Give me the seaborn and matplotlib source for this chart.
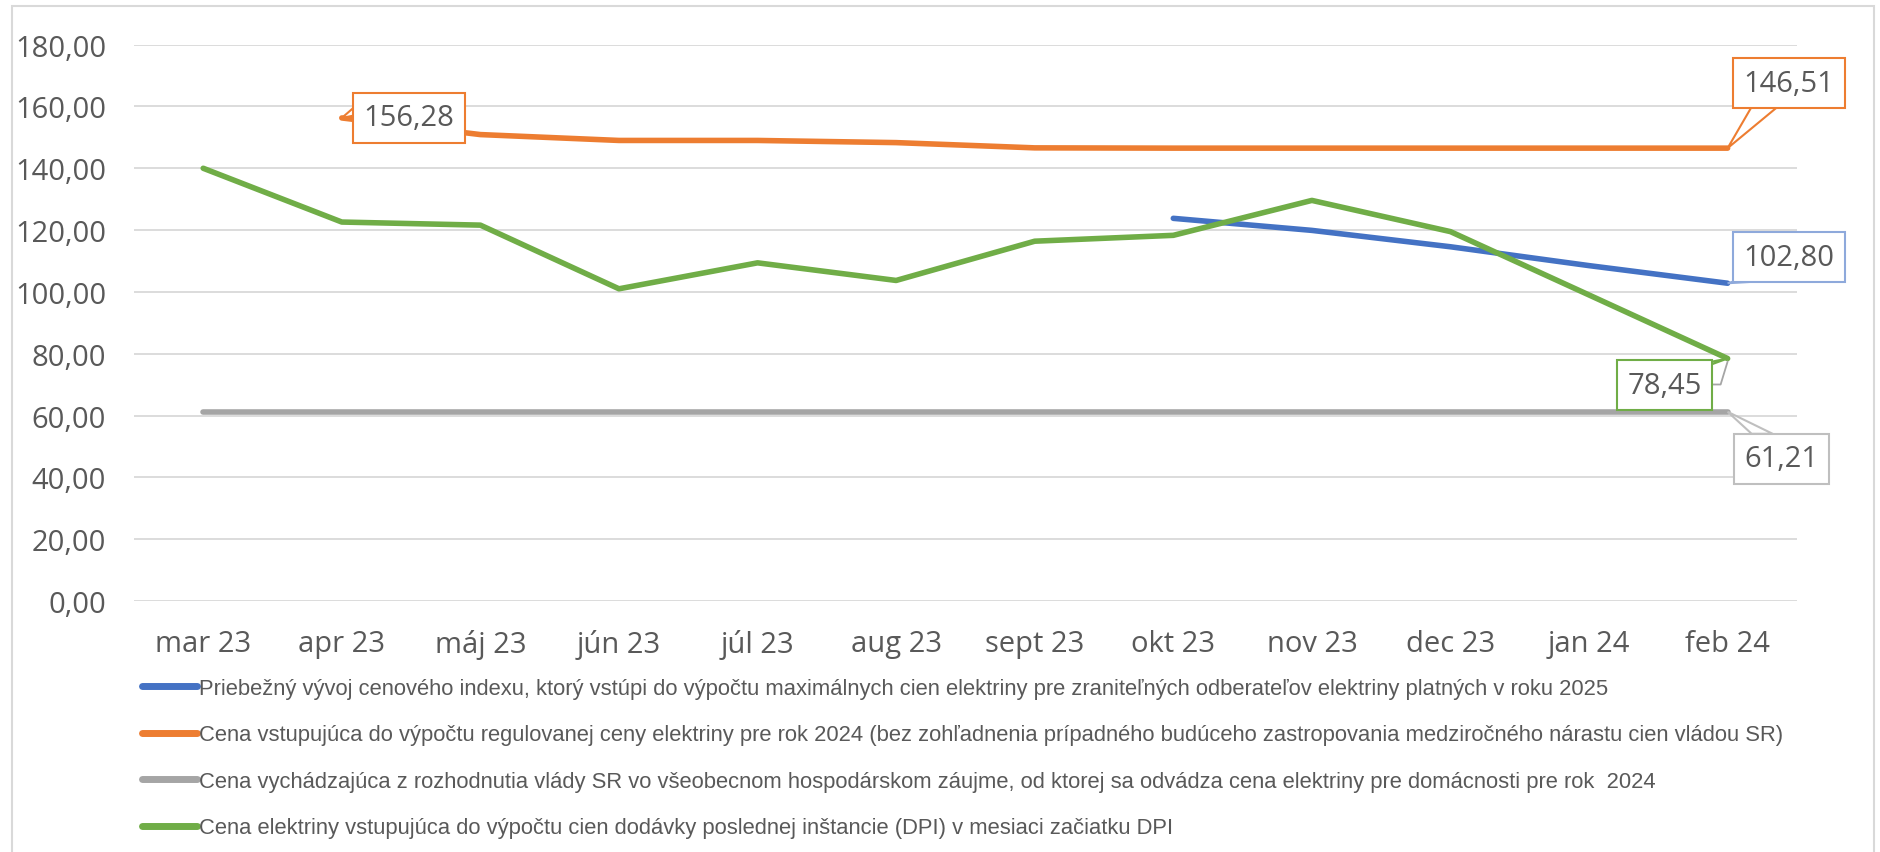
import numpy as np
import pandas as pd
import matplotlib
matplotlib.use("Agg")
import matplotlib.pyplot as plt
import seaborn as sns
from matplotlib.lines import Line2D
from matplotlib.patches import Rectangle, Polygon
from matplotlib.transforms import IdentityTransform, ScaledTranslation

months = ["mar 23", "apr 23", "máj 23", "jún 23", "júl 23", "aug 23",
          "sept 23", "okt 23", "nov 23", "dec 23", "jan 24", "feb 24"]

# NaN = no value for that month
index_2025 = [np.nan] * 7 + [123.8, 119.9, 114.6, 108.5, 102.80]
regulated_2024 = [np.nan, 156.28, 150.9, 149.0, 149.0, 148.3,
                  146.6, 146.51, 146.51, 146.51, 146.51, 146.51]
government_2024 = [61.21] * 12
dpi_price = [140.0, 122.6, 121.6, 101.0, 109.4, 103.7,
             116.4, 118.3, 129.6, 119.5, 99.0, 78.45]

labels = [
    "Priebežný vývoj cenového indexu, ktorý vstúpi do výpočtu maximálnych cien elektriny pre zraniteľných odberateľov elektriny platných v roku 2025",
    "Cena vstupujúca do výpočtu regulovanej ceny elektriny pre rok 2024 (bez zohľadnenia prípadného budúceho zastropovania medziročného nárastu cien vládou SR)",
    "Cena vychádzajúca z rozhodnutia vlády SR vo všeobecnom hospodárskom záujme, od ktorej sa odvádza cena elektriny pre domácnosti pre rok  2024",
    "Cena elektriny vstupujúca do výpočtu cien dodávky poslednej inštancie (DPI) v mesiaci začiatku DPI",
]
colors = ["#4472C4", "#ED7D31", "#A5A5A5", "#70AD47"]
series = [index_2025, regulated_2024, government_2024, dpi_price]

TXT = "#595959"

df = pd.DataFrame({"x": np.arange(len(months))})
for lab, vals in zip(labels, series):
    df[lab] = vals
long = df.melt(id_vars="x", var_name="series", value_name="value").dropna()

sns.set_style("white")
plt.rcParams["font.family"] = ["Open Sans", "DejaVu Sans"]

fig = plt.figure(figsize=(18.81, 8.53), dpi=100)
ax = fig.add_axes([0.0712, 0.2943, 0.9553 - 0.0712, 0.9465 - 0.2943])

sns.lineplot(data=long, x="x", y="value", hue="series", hue_order=labels,
             palette=dict(zip(labels, colors)), linewidth=4, legend=False,
             ax=ax, sort=False)

ax.set_xlim(-0.5, len(months) - 0.5)
ax.set_ylim(0, 180)
ax.set_yticks(np.arange(0, 181, 20))
ax.set_yticklabels([f"{v:.2f}".replace(".", ",") for v in np.arange(0, 181, 20)])
ax.set_xticks(np.arange(len(months)))
ax.set_xticklabels(months)
ax.tick_params(axis="both", length=0, labelsize=21, colors=TXT)
ax.tick_params(axis="y", pad=20)
ax.tick_params(axis="x", pad=20)
ax.set_xlabel("")
ax.set_ylabel("")
ax.grid(axis="y", color="#D9D9D9", linewidth=1.3)
ax.set_axisbelow(True)
for s in ax.spines.values():
    s.set_visible(False)

# callouts: (x index, value, edge colour, box offset px, pointer base px)
last = len(months) - 1
callouts = [
    (1, regulated_2024[1], "#ED7D31", (67, 0), [(15, 13), (15, 3)]),
    (last, regulated_2024[-1], "#ED7D31", (61, 65), [(25, 43), (52, 43)]),
    (last, index_2025[-1], "#8EA9DB", (61, 26), [(10, 3), (52, 3)]),
    (last, dpi_price[-1], "#70AD47", (-63, -27), [(-55, -11), (-30, -11)]),
    (last, government_2024[-1], "#BFBFBF", (54, -47), [(24, -22), (45, -22)]),
]
for xi, val, ec, off, base in callouts:
    anchor = IdentityTransform() + ScaledTranslation(xi, val, ax.transData)
    ax.add_patch(Polygon([(0, 0)] + base, closed=True, fc="white", ec=ec,
                         lw=1.5, transform=anchor, clip_on=False, zorder=5))
    ax.annotate(f"{val:.2f}".replace(".", ","), xy=(xi, val),
                xytext=off, textcoords="offset pixels",
                ha="center", va="center", fontsize=21, color=TXT,
                bbox=dict(boxstyle="square,pad=0.36", fc="white", ec=ec, lw=1.5),
                annotation_clip=False, zorder=6)
    if ec == "#70AD47":
        # leader line from the label back to the point
        ax.add_line(Line2D([-21, -7, 0], [-26, -26, -3], color="#A5A5A5",
                           lw=1.3, transform=anchor, clip_on=False, zorder=4))

handles = [Line2D([0], [0], color=c, lw=5) for c in colors]
leg = fig.legend(handles, labels, loc="upper left",
                 bbox_to_anchor=(0.0755, 0.204), frameon=False, ncol=1,
                 handlelength=2.5, handletextpad=0.1, labelspacing=1.16,
                 borderpad=0, borderaxespad=0,
                 prop={"family": "Liberation Sans", "size": 15.8})
for t in leg.get_texts():
    t.set_color(TXT)

fig.patches.append(Rectangle((0.0064, -0.01), 0.99, 1.002, transform=fig.transFigure,
                             fill=False, ec="#D9D9D9", lw=1.5))

fig.savefig("out.png", dpi=100)
